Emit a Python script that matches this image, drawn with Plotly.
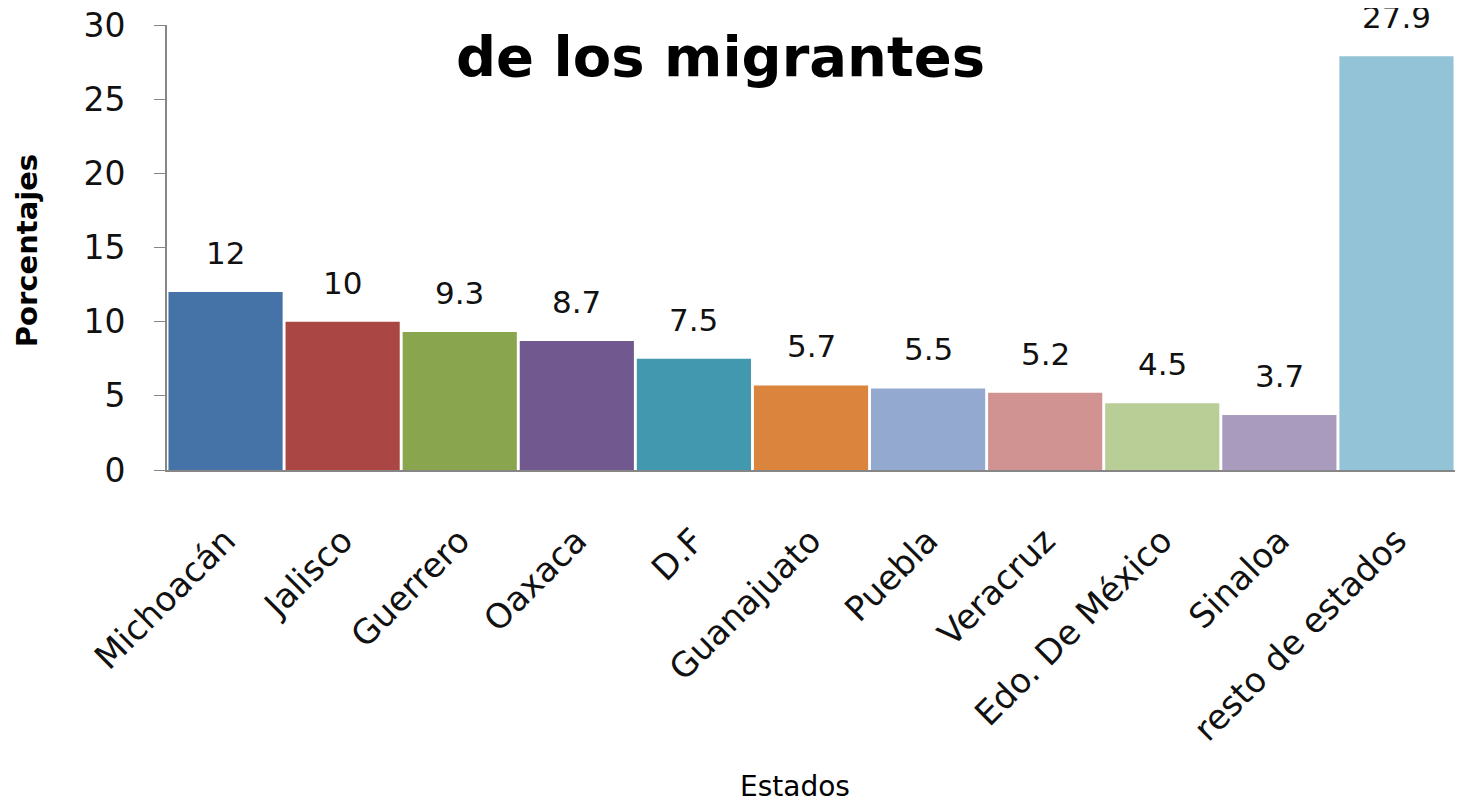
import plotly.graph_objects as go

estados = ["Michoacán", "Jalisco", "Guerrero", "Oaxaca", "D.F", "Guanajuato",
           "Puebla", "Veracruz", "Edo. De México", "Sinaloa", "resto de estados"]
porcentajes = [12, 10, 9.3, 8.7, 7.5, 5.7, 5.5, 5.2, 4.5, 3.7, 27.9]
etiquetas = ["12", "10", "9.3", "8.7", "7.5", "5.7", "5.5", "5.2", "4.5", "3.7", "27.9"]
colores = ["#4572A7", "#AA4643", "#89A54E", "#71588F", "#4198AF", "#DB843D",
           "#93A9CF", "#D19392", "#B9CD96", "#A99BBD", "#92C3D6"]

FONT = "'DejaVu Sans', Verdana, sans-serif"

fig = go.Figure(go.Bar(
    x=estados, y=porcentajes, marker=dict(color=colores, line=dict(width=0)),
    showlegend=False,
))

for e, v, t in zip(estados, porcentajes, etiquetas):
    fig.add_annotation(x=e, y=v, text=t, showarrow=False, yanchor="bottom",
                       yshift=19, font=dict(size=31, color="#111", family=FONT))

fig.add_annotation(xref="paper", yref="paper", x=0.43, y=0.93, text="<b>de los migrantes</b>",
                   showarrow=False, yanchor="middle",
                   font=dict(size=56, color="#000", family=FONT))

fig.add_annotation(xref="paper", yref="paper", x=-0.1087, y=0.494, text="<b>Porcentajes</b>",
                   showarrow=False, textangle=-90, xanchor="center", yanchor="middle",
                   font=dict(size=29, color="#000", family=FONT))

fig.add_annotation(xref="paper", yref="paper", x=0.4876, y=-0.712, text="Estados",
                   showarrow=False, xanchor="center", yanchor="middle",
                   font=dict(size=28, color="#000", family=FONT))

fig.update_layout(
    width=1470, height=805,
    margin=dict(l=159, r=23, t=17, b=343),
    paper_bgcolor="white", plot_bgcolor="white",
    bargap=0.025,
    font=dict(family=FONT, color="#111"),
)
fig.update_xaxes(tickangle=-45, tickfont=dict(size=34, family=FONT), showline=True,
                 linecolor="#868686", linewidth=2, ticks="", automargin=False,
                 ticklabelstandoff=35, ticklabeloverflow="allow")
fig.update_yaxes(range=[0, 30], dtick=5, showgrid=False, showline=True,
                 linecolor="#868686", linewidth=2, ticks="outside", ticklen=11,
                 tickcolor="#868686", tickfont=dict(size=33, family=FONT), zeroline=False,
                 automargin=False, ticklabelstandoff=22, ticklabeloverflow="allow")

fig.write_html("out.html")
